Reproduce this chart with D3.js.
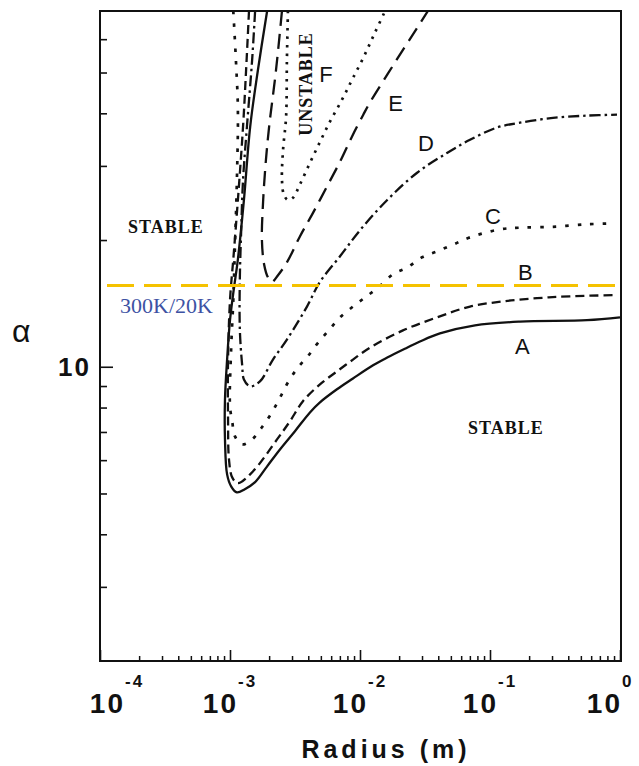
<!DOCTYPE html>
<html>
<head>
<meta charset="utf-8">
<script src="https://cdn.jsdelivr.net/npm/d3@7"></script>
<style>
  body { margin: 0; background: #fff; }
</style>
</head>
<body>
<svg id="chart" width="639" height="766"></svg>
<script>
// stability boundaries, [radius (m), alpha]
var curveA = [[1.93e-3,70],[1.64e-3,50.7],[1.43e-3,37.2],[1.28e-3,24.9],[1.15e-3,18.0],[1.07e-3,15.3],[1.0e-3,12.9],
  [9.5e-4,10.4],[9.15e-4,8.36],[9.15e-4,6.72],[9.5e-4,5.55],[1.02e-3,5.20],[1.13e-3,5.03],[1.30e-3,5.12],[1.56e-3,5.32],
  [1.93e-3,5.80],[2.43e-3,6.37],[3.16e-3,7.03],[4.12e-3,7.79],[4.92e-3,8.23],[6.65e-3,8.84],[8.83e-3,9.38],[1.26e-2,10.08],
  [1.62e-2,10.52],[2.30e-2,11.1],[2.89e-2,11.48],[4.12e-2,12.0],[7.67e-2,12.54],[0.170,12.8],[0.557,12.9],[1.0,13.1]];
var curveB = [[1.40e-3,70],[1.33e-3,50.7],[1.26e-3,37.2],[1.15e-3,24.9],[1.06e-3,18.0],[1.0e-3,14.4],[9.66e-4,10.4],
  [9.66e-4,7.50],[9.82e-4,6.03],[1.04e-3,5.46],[1.15e-3,5.29],[1.50e-3,5.64],[2.30e-3,6.72],[2.89e-3,7.42],[3.64e-3,8.28],
  [4.92e-3,9.08],[6.65e-3,9.75],[8.83e-3,10.4],[1.19e-2,11.1],[2.14e-2,12.2],[3.91e-2,13.1],[7.02e-2,13.9],[0.126,14.3],
  [0.230,14.55],[0.412,14.7],[0.948,14.8]];
var curveC = [[1.06e-3,70],[1.11e-3,53.6],[1.15e-3,40.8],[1.13e-3,27.8],[1.09e-3,19.0],[1.06e-3,14.4],[1.02e-3,11.0],
  [1.0e-3,8.05],[1.04e-3,7.42],[1.09e-3,6.84],[1.24e-3,6.54],[1.48e-3,6.72],[1.76e-3,7.18],[2.10e-3,7.79],[2.43e-3,8.46],
  [2.79e-3,9.18],[3.33e-3,9.96],[3.98e-3,10.6],[4.75e-3,11.4],[5.87e-3,12.3],[7.02e-3,13.1],[8.83e-3,13.9],[1.09e-2,14.6],
  [1.37e-2,15.4],[1.80e-2,16.6],[2.30e-2,17.2],[3.0e-2,18.2],[3.91e-2,18.8],[5.19e-2,19.5],[7.02e-2,20.3],[0.119,21.2],
  [0.170,21.4],[0.305,21.5],[0.557,21.8],[0.883,21.9]];
var curveD = [[1.56e-3,70],[1.48e-3,53.6],[1.35e-3,37.2],[1.26e-3,27.8],[1.22e-3,21.2],[1.19e-3,16.1],[1.19e-3,12.3],
  [1.24e-3,10.1],[1.28e-3,9.33],[1.43e-3,8.98],[1.70e-3,9.23],[2.14e-3,10.4],[2.74e-3,11.6],[3.91e-3,13.9],[4.92e-3,15.9],
  [7.02e-3,18.3],[1.0e-2,21.1],[1.62e-2,24.9],[2.75e-2,28.9],[4.67e-2,32.2],[7.02e-2,34.6],[0.113,37.0],[0.170,38.0],
  [0.305,39.0],[0.557,39.5],[0.948,39.7]];
var curveE = [[2.51e-3,70],[2.26e-3,50.7],[2.0e-3,37.2],[1.89e-3,31.0],[1.80e-3,24.9],[1.76e-3,20.0],[1.83e-3,17.5],
  [1.96e-3,16.3],[2.10e-3,15.9],[2.34e-3,16.5],[2.74e-3,17.7],[3.45e-3,20.4],[4.35e-3,23.2],[5.57e-3,26.8],[7.02e-3,30.7],
  [8.67e-3,35.2],[1.06e-2,39.7],[1.19e-2,42.4],[1.62e-2,49.4],[2.14e-2,56.6],[2.75e-2,63.8],[3.33e-2,70]];
var curveF = [[2.79e-3,70],[2.74e-3,53.6],[2.70e-3,39.2],[2.56e-3,32.8],[2.51e-3,27.8],[2.60e-3,25.6],[2.79e-3,24.9],
  [3.05e-3,25.2],[3.45e-3,27.1],[4.12e-3,30.5],[4.92e-3,34.2],[5.87e-3,38.2],[7.27e-3,43.1],[8.67e-3,48.0],[1.06e-2,54.2],
  [1.30e-2,62.1],[1.56e-2,70]];

var curveNames = ["A", "B", "C", "D", "E", "F"];
var curveData = [curveA, curveB, curveC, curveD, curveE, curveF];
var curveDash = [null, "9,5", "3.5,9", "11,4,2.5,4", "15,8", "2.5,6"];
// letter label positions [radius, alpha]
var labelPos = [[0.156, 10.75], [0.164, 16.1], [9.16e-2, 21.8], [2.79e-2, 32.6], [1.65e-2, 40.5], [4.85e-3, 47.5]];

var ratioLine = 15.6;          // 300K/20K
var ratioText = "300K/20K";
var xMajor = [1e-4, 1e-3, 1e-2, 1e-1, 1];
var xExp = ["-4", "-3", "-2", "-1", "0"];
var yMinor = [3, 4, 5, 6, 7, 8, 9, 20, 30, 40, 50, 60];
var yMajor = [10];

var sans = "Liberation Sans, Arial, sans-serif";
var serif = "Liberation Serif, Times New Roman, serif";

var svg = d3.select("#chart");
var pLeft = 100, pRight = 620, pTop = 11, pBottom = 661;

var x = d3.scaleLog().domain([1e-4, 1]).range([pLeft, pRight]);
var y = d3.scaleLog().domain([2, 70]).range([pBottom, pTop]);

var xMinor = [];
xMajor.slice(0, 4).forEach(function(d) { for (var k = 2; k < 10; k++) xMinor.push(d * k); });

svg.append("rect").attr("width", 639).attr("height", 766).attr("fill", "#fff");

svg.append("clipPath").attr("id", "clip")
  .append("rect").attr("x", pLeft).attr("y", pTop).attr("width", pRight - pLeft + 1).attr("height", pBottom - pTop);

// axes, ticks pointing inward
svg.append("g").attr("transform", "translate(" + pLeft + ",0)")
  .call(d3.axisLeft(y).tickValues(yMinor).tickSize(-7).tickFormat(""))
  .call(function(g) { g.select(".domain").remove(); g.selectAll("line").attr("stroke", "#111").attr("stroke-width", 1.6); });
svg.append("g").attr("transform", "translate(" + pLeft + ",0)")
  .call(d3.axisLeft(y).tickValues(yMajor).tickSize(-13).tickPadding(9).tickFormat(d3.format("d")))
  .call(function(g) {
    g.select(".domain").remove();
    g.selectAll("line").attr("stroke", "#111").attr("stroke-width", 1.6);
    g.selectAll("text").attr("font-size", 26).attr("font-weight", "bold").attr("fill", "#111")
      .attr("letter-spacing", 2).style("font-family", sans);
  });

svg.append("g").attr("transform", "translate(0," + pBottom + ")")
  .call(d3.axisBottom(x).tickValues(xMinor).tickSize(-5).tickFormat(""))
  .call(function(g) { g.select(".domain").remove(); g.selectAll("line").attr("stroke", "#111").attr("stroke-width", 1.5); });
svg.append("g").attr("transform", "translate(0," + pBottom + ")")
  .call(d3.axisBottom(x).tickValues(xMajor).tickSize(-11).tickFormat(""))
  .call(function(g) { g.select(".domain").remove(); g.selectAll("line").attr("stroke", "#111").attr("stroke-width", 1.6); });

// x tick labels: 10 with raised exponent, kept inside the page
var xl = svg.append("g").selectAll("g").data(xMajor).join("g")
  .attr("transform", function(d) { return "translate(" + Math.min(Math.max(x(d), 117), 614) + ",0)"; });
xl.append("text").attr("x", 8).attr("y", 713).attr("text-anchor", "end").style("font-family", sans)
  .attr("font-size", 28).attr("font-weight", "bold").attr("letter-spacing", 2).attr("fill", "#111").text("10");
xl.append("text").attr("x", 8).attr("y", 687).style("font-family", sans)
  .attr("font-size", 17).attr("font-weight", "bold").attr("letter-spacing", 2).attr("fill", "#111")
  .text(function(d, i) { return xExp[i]; });

// frame
svg.append("rect").attr("x", pLeft).attr("y", pTop).attr("width", pRight - pLeft + 1).attr("height", pBottom - pTop)
  .attr("fill", "none").attr("stroke", "#111").attr("stroke-width", 2);

// curves
var line = d3.line().x(function(d) { return x(d[0]); }).y(function(d) { return y(d[1]); })
  .curve(d3.curveCatmullRom.alpha(0.5));
svg.append("g").attr("clip-path", "url(#clip)")
  .selectAll("path").data(curveData).join("path")
  .attr("d", line)
  .attr("fill", "none")
  .attr("stroke", "#111")
  .attr("stroke-width", function(d, i) { return i == 2 || i == 5 ? 2.7 : 2.3; })
  .attr("stroke-dasharray", function(d, i) { return curveDash[i]; });

svg.append("g").selectAll("text").data(labelPos).join("text")
  .attr("x", function(d) { return x(d[0]); })
  .attr("y", function(d) { return y(d[1]); })
  .style("font-family", sans).attr("font-size", 22).attr("fill", "#111")
  .text(function(d, i) { return curveNames[i]; });

// 300K/20K reference level
svg.append("line")
  .attr("x1", 107).attr("x2", 618).attr("y1", y(ratioLine)).attr("y2", y(ratioLine))
  .attr("stroke", "#f5c200").attr("stroke-width", 3).attr("stroke-dasharray", "27,10");
svg.append("text").attr("x", 120).attr("y", 313)
  .style("font-family", serif).attr("font-size", 22)
  .attr("fill", "#3d52a3").text(ratioText);

// region labels
svg.append("text").attr("x", 128).attr("y", 233).style("font-family", serif).attr("font-weight", "bold")
  .attr("font-size", 18).attr("letter-spacing", 1).attr("fill", "#111").text("STABLE");
svg.append("text").attr("x", 468).attr("y", 434).style("font-family", serif).attr("font-weight", "bold")
  .attr("font-size", 18).attr("letter-spacing", 1).attr("fill", "#111").text("STABLE");
svg.append("text").attr("transform", "translate(312,84) rotate(-90)").attr("text-anchor", "middle")
  .style("font-family", serif).attr("font-weight", "bold").attr("font-size", 18).attr("letter-spacing", 1)
  .attr("fill", "#111").text("UNSTABLE");

// axis titles
svg.append("text").attr("x", 12).attr("y", 342).style("font-family", sans).attr("font-size", 32)
  .attr("fill", "#111").text("\u03b1");
svg.append("text").attr("x", 386).attr("y", 758).attr("text-anchor", "middle").style("font-family", sans)
  .attr("font-size", 25).attr("font-weight", "bold").attr("letter-spacing", 4).attr("fill", "#111").text("Radius (m)");
</script>
</body>
</html>
